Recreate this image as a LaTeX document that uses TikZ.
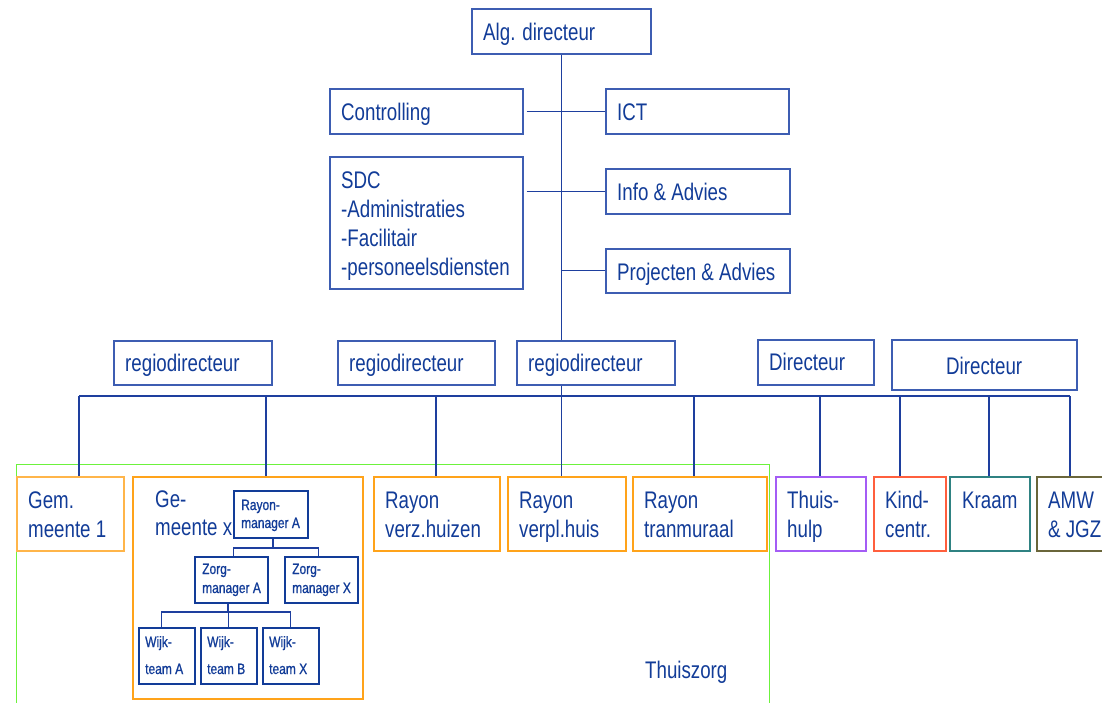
\documentclass[tikz,border=0pt]{standalone}
\usepackage{fontspec}
\setmainfont{Liberation Sans}[FakeStretch=0.78]
\newfontfamily\teamfont{Liberation Sans}[FakeStretch=0.8,FakeBold=0.9]
\definecolor{ink}{HTML}{123C98}
\definecolor{wire}{HTML}{1E3F9E}
\definecolor{frame}{HTML}{3D5DB2}
\definecolor{zorg}{HTML}{6CF23C}
\definecolor{oranje}{HTML}{FFA31A}
\definecolor{lichtoranje}{HTML}{FFB54A}
\definecolor{paars}{HTML}{A45CF5}
\definecolor{rood}{HTML}{FF5F3D}
\definecolor{petrol}{HTML}{2F8282}
\definecolor{olijf}{HTML}{6A663A}
% stacked left-aligned lines, baseline = first line
\newcommand{\stk}[2]{\vtop{\baselineskip=#1\relax\lineskiplimit=-100pt\halign{##\hfil\cr#2\crcr}}}
% empty framed box from (x1,y1) to (x2,y2)
\newcommand{\orgbox}[6]{\node[box,draw=#6,anchor=north west,minimum width={#4-#2},minimum height={#5-#3}] (#1) at (#2,#3) {};}
\begin{document}
\begin{tikzpicture}[x=1pt,y=-1pt,
  box/.style={rectangle,line width=1.7pt,inner sep=0pt,fill=none},
  big/.style={text=ink,inner sep=0pt,anchor=base west,font=\fontsize{24}{29}\selectfont},
  small/.style={text=ink,inner sep=0pt,anchor=base west,font=\teamfont\fontsize{15}{18}\selectfont},
  ln/.style={draw=wire,line width=1.1pt}]
\useasboundingbox (0,0) rectangle (1102,702);
\fill[white] (0,0) rectangle (1102,702);

% Thuiszorg frame
\orgbox{tz}{16}{464}{769}{712}{zorg,line width=1.1pt}
\node[big] (tzl) at (645,678) {Thuiszorg};

% top management
\orgbox{alg}{471}{8}{650}{53}{frame}
\node[big] (algt) at (483,40) {Alg. directeur};
\orgbox{ctrl}{329}{88}{522}{133}{frame}
\node[big] (ctrlt) at (341,120) {Controlling};
\orgbox{ict}{605}{88}{788}{133}{frame}
\node[big] (ictt) at (617,120) {ICT};
\orgbox{sdc}{329}{156}{522}{288}{frame}
\node[big] (sdct) at (341,188) {\stk{29pt}{SDC\cr-Administraties\cr-Facilitair\cr-personeelsdiensten}};
\orgbox{info}{605}{168}{789}{213}{frame}
\node[big] (infot) at (617,200) {Info \& Advies};
\orgbox{proj}{605}{248}{789}{292}{frame}
\node[big] (projt) at (617,280) {Projecten \& Advies};

% directors
\orgbox{regio1}{113}{340}{271}{384}{frame}
\node[big] (r1t) at (125,371) {regiodirecteur};
\orgbox{regio2}{337}{340}{494}{384}{frame}
\node[big] (r2t) at (349,371) {regiodirecteur};
\orgbox{regio3}{516}{340}{674}{384}{frame}
\node[big] (r3t) at (528,371) {regiodirecteur};
\orgbox{dir1}{757}{339}{873}{384}{frame}
\node[big] (d1t) at (769,370) {Directeur};
\orgbox{dir2}{891}{339}{1076}{389}{frame}
\node[big] (d2t) at (946,374) {Directeur};

% units
\orgbox{gem1}{16}{476}{123}{550}{lichtoranje}
\node[big] (gem1t) at (28,508) {\stk{29pt}{Gem.\cr meente 1}};
\orgbox{gemx}{132}{476}{362}{698}{oranje}
\node[big] (gemxt) at (155,507) {\stk{28pt}{Ge-\cr meente x}};
\orgbox{verz}{373}{476}{499}{550}{oranje}
\node[big] (verzt) at (385,508) {\stk{29pt}{Rayon\cr verz.huizen}};
\orgbox{verpl}{507}{476}{625}{550}{oranje}
\node[big] (verplt) at (519,508) {\stk{29pt}{Rayon\cr verpl.huis}};
\orgbox{tran}{632}{476}{766}{550}{oranje}
\node[big] (trant) at (644,508) {\stk{29pt}{Rayon\cr tranmuraal}};
\orgbox{hulp}{775}{476}{865}{550}{paars}
\node[big] (hulpt) at (787,508) {\stk{29pt}{Thuis-\cr hulp}};
\orgbox{kind}{873}{476}{945}{550}{rood}
\node[big] (kindt) at (885,508) {\stk{29pt}{Kind-\cr centr.}};
\orgbox{kraam}{949}{476}{1029}{550}{petrol}
\node[big] (kraamt) at (962,508) {Kraam};
\orgbox{amw}{1036}{476}{1110}{550}{olijf}
\node[big] (amwt) at (1048,508) {\stk{29pt}{AMW\cr \& JGZ}};

% teams inside Gemeente x
\orgbox{rm}{233}{490}{307}{537}{ink}
\node[small] (rmt) at (241,510) {\stk{18pt}{Rayon-\cr manager A}};
\orgbox{zA}{194}{556}{267}{602}{ink}
\node[small] (zAt) at (202,574) {\stk{19pt}{Zorg-\cr manager A}};
\orgbox{zX}{284}{556}{357}{602}{ink}
\node[small] (zXt) at (292,574) {\stk{19pt}{Zorg-\cr manager X}};
\orgbox{wA}{138}{627}{194}{683}{ink}
\node[small] (wAt) at (145,647) {\stk{27pt}{Wijk-\cr team A}};
\orgbox{wB}{200}{627}{256}{683}{ink}
\node[small] (wBt) at (207,647) {\stk{27pt}{Wijk-\cr team B}};
\orgbox{wX}{262}{627}{318}{683}{ink}
\node[small] (wXt) at (269,647) {\stk{27pt}{Wijk-\cr team X}};

% main spine and staff lines
\draw[ln] (alg.south) -- (alg.south |- regio3.north);
\draw[ln] (alg.south |- regio3.south) -- (alg.south |- verpl.north);
\draw[ln] ([xshift=3pt]ctrl.east) -- (ict.west);
\draw[ln] ([xshift=3pt]sdc.east |- info.west) -- (info.west);
\draw[ln] (alg.south |- proj.west) -- (proj.west);

% bus to the units
\coordinate (b1) at (79,396);
\coordinate (b2) at (266,396);
\coordinate (b3) at (436,396);
\coordinate (b5) at (694,396);
\coordinate (b6) at (820,396);
\coordinate (b7) at (900,396);
\coordinate (b8) at (989,396);
\coordinate (b9) at (1070,396);
\draw[ln] (b1) -- (b9);
\draw[ln] (b1) -- (b1 |- gem1.north);
\draw[ln] (b2) -- (b2 |- gemx.north);
\draw[ln] (b3) -- (b3 |- verz.north);
\draw[ln] (b5) -- (b5 |- tran.north);
\draw[ln] (b6) -- (b6 |- hulp.north);
\draw[ln] (b7) -- (b7 |- kind.north);
\draw[ln] (b8) -- (b8 |- kraam.north);
\draw[ln] (b9) -- (b9 |- amw.north);

% team tree
\coordinate (rj) at (273,548);
\coordinate (zj) at (228,612);
\draw[ln] (rm.south -| rj) -- (rj);
\draw[ln] ([xshift=2.5pt]zA.north) -- ([xshift=2.5pt]zA.north |- rj) -- ([xshift=-2.5pt]zX.north |- rj) -- ([xshift=-2.5pt]zX.north);
\draw[ln] (zA.south -| zj) -- (zj);
\draw[ln] ([xshift=-5pt]wA.north) -- ([xshift=-5pt]wA.north |- zj) -- (wX.north |- zj) -- (wX.north);
\draw[ln] (wB.north |- zj) -- (wB.north);
\end{tikzpicture}
\end{document}
